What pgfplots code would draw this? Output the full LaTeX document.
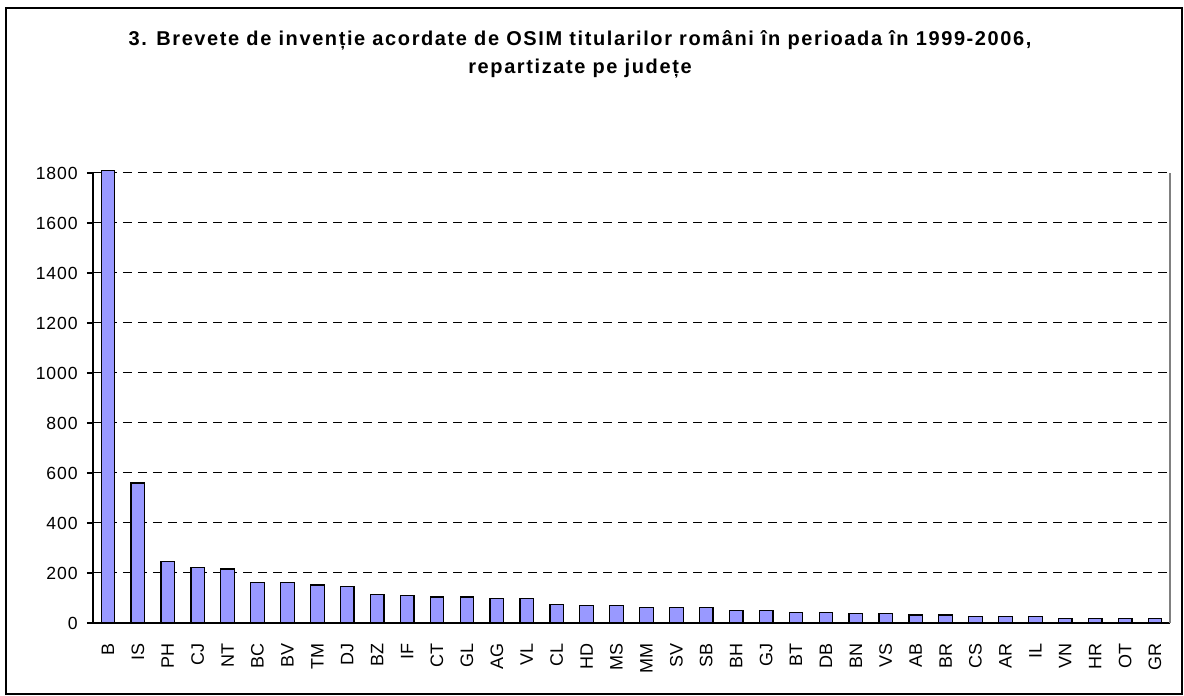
\documentclass[border=0pt]{standalone}
\usepackage{pgfplots}
\pgfplotsset{compat=1.18}
\usepackage{fontspec}
\setmainfont{Liberation Sans}
\newfontfamily\tickfont{Liberation Sans}[LetterSpace=5]
\newfontfamily\titlefont{Liberation Sans}[LetterSpace=8]
\definecolor{barblue}{HTML}{9999FF}

\begin{document}
\begin{tikzpicture}
\useasboundingbox (-46.5pt,-36.5pt) rectangle (545.5pt,311.5pt);
\draw[line width=0.8pt] (-43.5pt,-35.5pt) rectangle (544.5pt,307.5pt);

\begin{axis}[
    at={(0pt,0pt)}, anchor=south west,
    scale only axis, width=538.5pt, height=225pt,
    xmin=-0.5, xmax=35.5,
    ymin=0, ymax=1800,
    clip=false,
    ybar, bar width=6.8pt,
    axis x line*=bottom, axis y line*=left,
    axis line style={black, line width=0.6pt},
    tick style={black, line width=0.6pt},
    tick align=outside, major tick length=3pt, minor tick length=3pt,
    xtick={0,...,35},
    xtick style={draw=none},
    minor xtick={-0.5,0.5,...,35.5},
    xticklabels={B,IS,PH,CJ,NT,BC,BV,TM,DJ,BZ,IF,CT,GL,AG,VL,CL,HD,MS,MM,SV,SB,BH,GJ,BT,DB,BN,VS,AB,BR,CS,AR,IL,VN,HR,OT,GR},
    xticklabel style={rotate=90, anchor=east, inner xsep=7pt, inner ysep=0pt,
        font=\fontsize{9}{10}\selectfont},
    ytick={0,200,...,1800},
    yticklabel style={anchor=east, inner xsep=4.5pt, font=\tickfont\fontsize{8.8}{10}\selectfont},
    /pgf/number format/assume math mode=true,
    /pgf/number format/1000 sep={},
    ymajorgrids=true,
    grid style={black, line width=0.5pt, dash pattern=on 4.5pt off 3pt},
]

\addplot[fill=barblue, draw=black, line width=0.6pt]
    coordinates {
    (0,1810)(1,560)(2,245)(3,223)(4,216)(5,161)(6,161)(7,152)(8,145)(9,115)
    (10,109)(11,104)(12,104)(13,99)(14,99)(15,74)(16,69)(17,69)(18,62)(19,62)
    (20,62)(21,50)(22,50)(23,43)(24,43)(25,38)(26,38)(27,32)(28,32)(29,26)
    (30,26)(31,26)(32,19)(33,19)(34,19)(35,19)
    };

\draw[gray, line width=0.6pt] (rel axis cs:1,0) -- (rel axis cs:1,1);
\end{axis}

\node[anchor=base, font=\titlefont\bfseries\fontsize{10}{11}\selectfont]
    at (243.5pt,288.5pt) {3. Brevete de invenție acordate de OSIM titularilor români în perioada în 1999-2006,};
\node[anchor=base, font=\titlefont\bfseries\fontsize{10}{11}\selectfont]
    at (243.5pt,274.5pt) {repartizate pe județe};
\end{tikzpicture}
\end{document}
